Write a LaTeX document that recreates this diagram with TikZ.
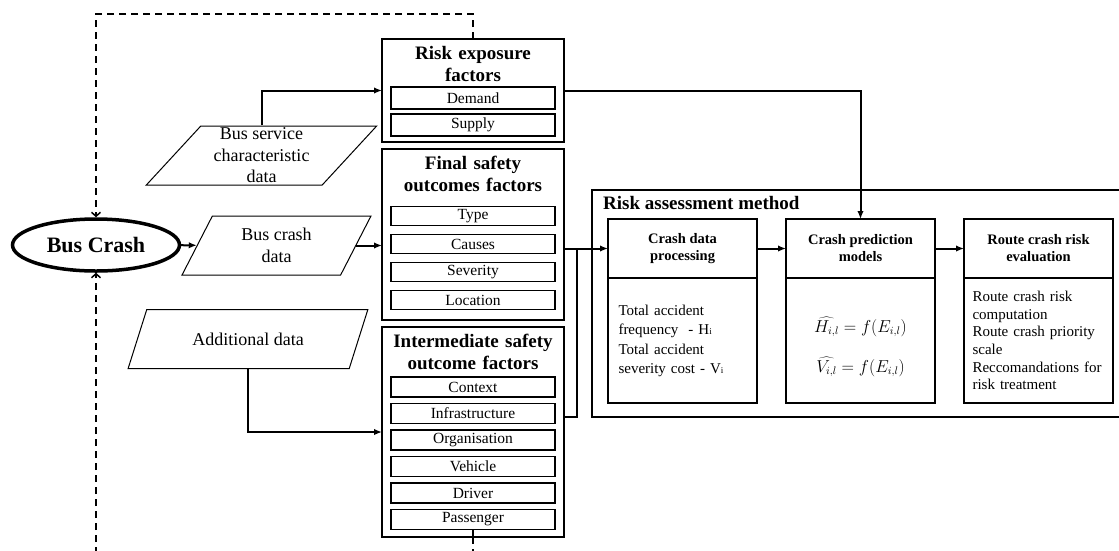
\documentclass[tikz,border=0pt]{standalone}
\usepackage{fontspec}
\setmainfont{Liberation Serif}
\usetikzlibrary{positioning,
                shapes.geometric,
                arrows.meta}
\tikzset{
         factorbox/.style={draw, line width=1.3pt, minimum width=182pt, outer sep=0pt},
         factortitle/.style={font=\bfseries\fontsize{19}{22}\selectfont, align=center, text width=180pt, inner sep=0pt},
         itembox/.style={draw, line width=1.3pt, minimum width=164pt, minimum height=19pt, inner sep=0pt, outer sep=0pt, font=\fontsize{15.5}{18}\selectfont},
         databox/.style={draw, line width=1pt, trapezium, trapezium stretches=true, minimum height=59pt, inner sep=0pt, align=center, font=\fontsize{18}{21.5}\selectfont},
         stepbox/.style={draw, line width=1.3pt, minimum width=149pt, minimum height=59pt, outer sep=0pt, align=center, font=\bfseries\fontsize{14.5}{17}\selectfont},
         bodybox/.style={draw, line width=1.3pt, minimum width=149pt, minimum height=125pt, outer sep=0pt},
         formula/.style={font=\fontsize{16}{19}\selectfont, inner sep=1pt},
         myline/.style={line width=2pt},
         myarrow/.style={myline, -{Latex[length=8pt, width=6.5pt]}},
         feedback/.style={line width=1.5pt, dash pattern=on 7pt off 5pt, -{Straight Barb[length=4pt, width=9pt]}},
}

\begin{document}
\begin{tikzpicture}[x=1pt, y=-1pt]
    \useasboundingbox (0,0) rectangle (1119,550);
    \clip (0,0) rectangle (1119,550);

    % Bus Crash
    \node[draw, ellipse, line width=3.5pt, minimum width=167pt, minimum height=52pt,
          font=\bfseries\fontsize{22}{26}\selectfont] (crash) at (96,245) {Bus Crash};

    % Daten
    \node[databox, trapezium left angle=52, trapezium right angle=128,
          minimum width=231pt] (bsv) at (261.5,155.5) {Bus service\\characteristic\\data};
    \node[databox, trapezium left angle=64, trapezium right angle=116,
          minimum width=189pt] (bcd) at (276.5,245.5) {Bus crash\\data};
    \node[databox, trapezium left angle=51, trapezium right angle=129,
          minimum width=240pt] (add) at (248,339) {Additional data};

    % Risk exposure
    \node[factorbox, minimum height=103pt] (rexp) at (473,90.5) {};
    \node[factortitle] (rexpt) at (473,64) {Risk exposure\\factors};
    \node[itembox, minimum height=22pt] (dem) at (473,98) {Demand};
    \node[itembox, minimum height=22pt, below=5pt of dem] (sup) {Supply};

    % Final safety outcomes
    \node[factorbox, minimum height=171pt] (fso) at (473,234.5) {};
    \node[factortitle] (fsot) at (473,174) {Final safety\\outcomes factors};
    \node[itembox] (typ) at (473,216) {Type};
    \node[itembox, below=9pt of typ] (cau) {Causes};
    \node[itembox, below=9pt of cau] (sev) {Severity};
    \node[itembox, below=9pt of sev] (loc) {Location};

    % Intermediate safety outcomes
    \node[factorbox, minimum height=210pt] (iso) at (473,432) {};
    \node[factortitle] (isot) at (473,352) {Intermediate safety\\outcome factors};
    \node[itembox, minimum height=20pt] (ctx) at (473,387) {Context};
    \node[itembox, minimum height=20pt, below=6.5pt of ctx] (inf) {Infrastructure};
    \node[itembox, minimum height=20pt, below=6.5pt of inf] (org) {Organisation};
    \node[itembox, minimum height=20pt, below=6.5pt of org] (veh) {Vehicle};
    \node[itembox, minimum height=20pt, below=6.5pt of veh] (drv) {Driver};
    \node[itembox, minimum height=20pt, below=6.5pt of drv] (pas) {Passenger};

    % Risk assessment method
    \node[draw, line width=1.3pt, minimum width=548pt, minimum height=227pt] (ram) at (866,303.5) {};
    \node[anchor=west, inner sep=0pt,
          font=\bfseries\fontsize{19}{22}\selectfont] (ramt) at (603,203) {Risk assessment method};
    \node[stepbox] (cdh) at (682.5,248.5) {Crash data\\processing};
    \node[bodybox, below=0pt of cdh, align=left, text width=128pt,
          font=\fontsize{15}{19}\selectfont] (cdb) {Total accident\\frequency\ \ - H{\fontsize{9}{9}\selectfont i}\\[1pt]Total accident\\severity cost - V{\fontsize{9}{9}\selectfont i}};
    \node[stepbox, right=29pt of cdh] (pdh) {Crash prediction\\models};
    \node[bodybox, below=0pt of pdh] (pdb) {};
    \node[formula] (hform) at (860.5,327) {$\widehat{H_{i,l}} = f\bigl(E_{i,l}\bigr)$};
    \node[formula] (vform) at (860.5,367) {$\widehat{V_{i,l}} = f\bigl(E_{i,l}\bigr)$};
    \node[stepbox, right=29pt of pdh] (rth) {Route crash risk\\evaluation};
    \node[bodybox, below=0pt of rth, align=left, text width=132pt,
          font=\fontsize{15}{17.6}\selectfont] (rtb) {Route crash risk\\computation\\Route crash priority\\scale\\Reccomandations for\\risk treatment};

    % Rueckkopplung
    \draw[feedback] (rexp.north) -- ++(0,-25) -| (crash.north);
    \draw[myline] (pas.south) -- (iso.south);
    \draw[feedback] (iso.south) -- ++(0,30) -| (crash.south);

    % Eingaben
    \draw[myarrow] (bsv.center |- bsv.north) |- (rexp.west);
    \draw[myarrow] (crash) -- (bcd);
    \draw[myarrow] (bcd.east) -- (bcd.east -| fso.west);
    \draw[myarrow] (add.center |- add.south) |- (iso.west);

    % zur Methode
    \coordinate (jn) at (577,248.5);
    \draw[myarrow] (rexp.east) -| (pdh.north);
    \draw[myarrow] (fso.east |- cdh) -- (cdh.west);
    \draw[myline] ([yshift=15pt]iso.east) -| (jn);
    \draw[myarrow] (cdh) -- (pdh);
    \draw[myarrow] (pdh) -- (rth);
\end{tikzpicture}
\end{document}
